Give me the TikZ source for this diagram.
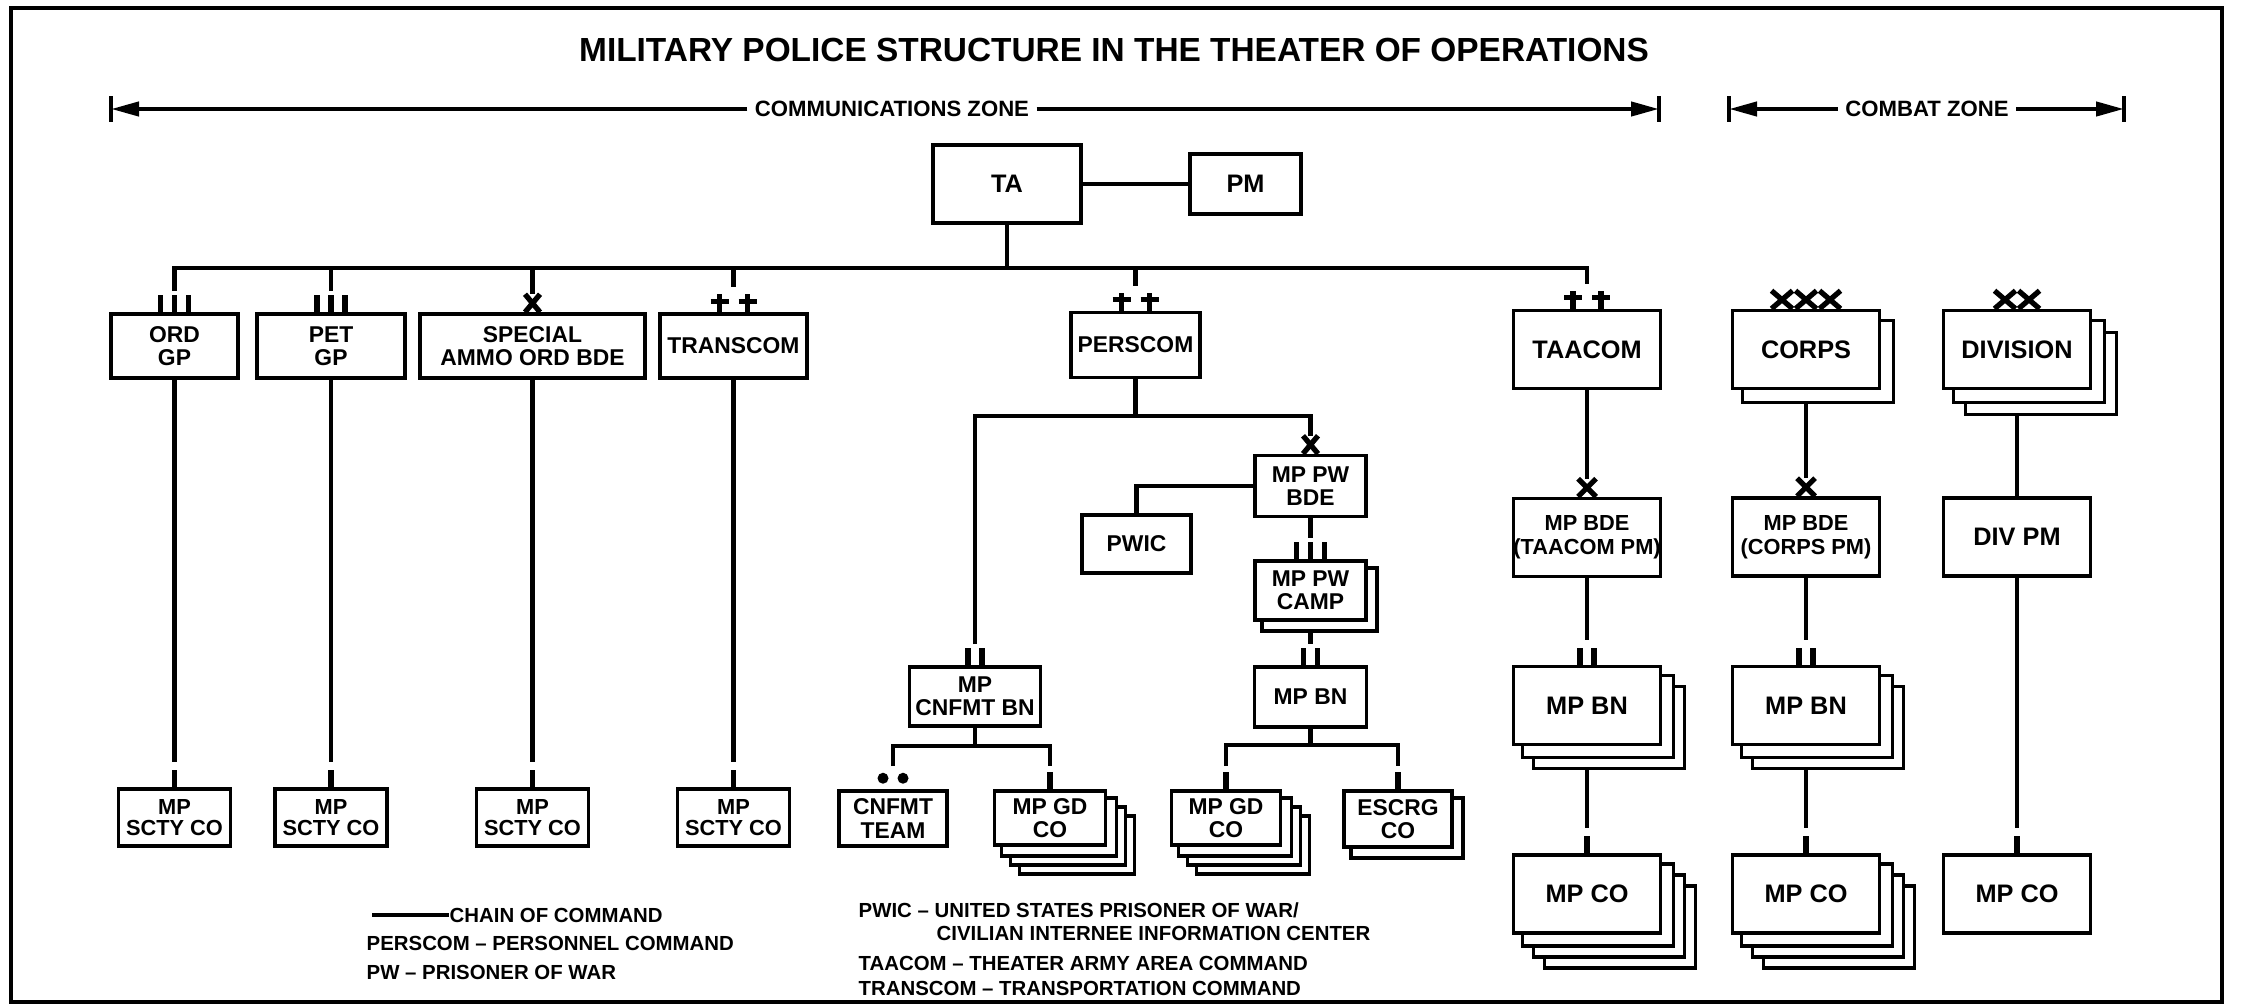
\documentclass[tikz,border=0pt]{standalone}
\usepackage{fontspec}
\setmainfont{Liberation Sans}
\usetikzlibrary{calc}
\usetikzlibrary{arrows.meta}
\pgfdeclarelayer{links}
\pgfdeclarelayer{backs}
\pgfsetlayers{links,backs,main}
\newcommand{\boxfont}{\bfseries\fontsize{6.5}{6.6}\selectfont}
\newcommand{\bigfont}{\bfseries\fontsize{7.2}{7}\selectfont}
\newcommand{\bdefont}{\bfseries\fontsize{6.2}{6.9}\selectfont}
\newcommand{\smallfont}{\bfseries\fontsize{6.2}{5.8}\selectfont}
\newcommand{\legfont}{\bfseries\fontsize{5.8}{7}\selectfont}
\newcommand{\stack}[3]{\begin{pgfonlayer}{backs}\foreach \k in {#2,...,1} {\draw[line width=1pt, fill=white] ($(#1.south west)+(\k*#3,\k*#3)$) rectangle ($(#1.north east)+(\k*#3,\k*#3)$);}\end{pgfonlayer}}
\newcommand{\bars}[2]{\foreach \dx in {#2} {\draw[sym] ($(#1.north)+(\dx,0)$) -- ++(0,-17);}}
\newcommand{\brig}[3]{\foreach \dx in {#2} {\draw[sym] ($(#1.north)+(\dx-#3/2,0)$) -- ++(#3,-18) ($(#1.north)+(\dx+#3/2,0)$) -- ++(-#3,-18);}}
\newcommand{\cmd}[1]{\foreach \dx in {-14,14} {\draw[sym] ($(#1.north)+(\dx,0)$) -- ++(0,-18) ($(#1.north)+(\dx-9,-11)$) -- ++(18,0);}}
\newcommand{\team}[1]{\foreach \dx in {-10,10} {\fill ($(#1.north)+(\dx,-11)$) circle[radius=0.55mm];}}
\tikzset{
  orgbox/.style 2 args={draw, line width=1pt, fill=white, align=center, inner sep=0pt, minimum width=#1cm, minimum height=#2cm, font=\boxfont},
  bigbox/.style={orgbox={1.47}{0.78}, font=\bigfont},
  link/.style={line width=1.3pt},
  sym/.style={line width=1.5pt},
  zone/.style={line width=1.2pt},
  zonetext/.style={inner sep=0.7mm, font=\bfseries\fontsize{6.3}{7}\selectfont},
  legend/.style={anchor=west, inner sep=0pt, font=\legfont},
}
\begin{document}
\begin{tikzpicture}[x=0.01cm, y=-0.01cm]
\useasboundingbox (0,0) rectangle (2243,1006);
\draw[line width=1pt] (11,8) rectangle (2222,1002);
\node[font=\bfseries\fontsize{9.5}{10}\selectfont] (title) at (1114,50) {MILITARY POLICE STRUCTURE IN THE THEATER OF OPERATIONS};

% zones
\coordinate (comL) at (111,109);
\coordinate (comR) at (1659,109);
\coordinate (cbtL) at (1729,109);
\coordinate (cbtR) at (2124,109);
\node[zonetext] (comtext) at (892,109) {COMMUNICATIONS ZONE};
\node[zonetext] (cbttext) at (1927,109) {COMBAT ZONE};
\draw[zone, -{Triangle[length=2.8mm, width=1.4mm]}] (comtext.west) -- (comL);
\draw[zone, -{Triangle[length=2.8mm, width=1.4mm]}] (comtext.east) -- (comR);
\draw[zone, -{Triangle[length=2.8mm, width=1.4mm]}] (cbttext.west) -- (cbtL);
\draw[zone, -{Triangle[length=2.8mm, width=1.4mm]}] (cbttext.east) -- (cbtR);
\foreach \c in {comL, comR, cbtL, cbtR} {\draw[zone] (\c) ++(0,-13) -- ++(0,26);}

% top
\node[bigbox, minimum width=1.48cm] (ta) at (1007,184) {TA};
\node[orgbox={1.11}{0.60}, font=\bigfont] (pm) at (1245.5,184) {PM};

% row 1
\node[orgbox={1.27}{0.64}] (ordgp) at (174.5,346) {ORD\\GP};
\node[orgbox={1.48}{0.64}] (petgp) at (331,346) {PET\\GP};
\node[orgbox={2.25}{0.64}] (ammo) at (532.5,346) {SPECIAL\\AMMO ORD BDE};
\node[orgbox={1.47}{0.64}] (transcom) at (733.5,346) {TRANSCOM};
\node[orgbox={1.29}{0.65}] (perscom) at (1135.5,345) {PERSCOM};
\node[bigbox] (taacom) at (1587,349.5) {TAACOM};
\node[bigbox] (corps) at (1806,349.5) {CORPS};
\stack{corps}{1}{12}
\node[bigbox] (division) at (2017,349.5) {DIVISION};
\stack{division}{2}{12}

% security companies
\node[orgbox={1.12}{0.57}, font=\smallfont] (sctyA) at (174.5,817.5) {MP\\SCTY CO};
\node[orgbox={1.12}{0.57}, font=\smallfont] (sctyB) at (331,817.5) {MP\\SCTY CO};
\node[orgbox={1.12}{0.57}, font=\smallfont] (sctyC) at (532.5,817.5) {MP\\SCTY CO};
\node[orgbox={1.12}{0.57}, font=\smallfont] (sctyD) at (733.5,817.5) {MP\\SCTY CO};

% perscom
\node[orgbox={1.11}{0.61}] (pwbde) at (1310.5,486) {MP PW\\BDE};
\node[orgbox={1.09}{0.58}] (pwic) at (1136.5,544) {PWIC};
\node[orgbox={1.11}{0.59}] (pwcamp) at (1310.5,590.5) {MP PW\\CAMP};
\stack{pwcamp}{1}{9}
\node[orgbox={1.12}{0.60}] (mpbn) at (1310.5,697) {MP BN};
\node[orgbox={1.31}{0.59}] (cnfmtbn) at (975,696.5) {MP\\CNFMT BN};
\node[orgbox={1.08}{0.55}] (cnfmtteam) at (893,818.5) {CNFMT\\TEAM};
\node[orgbox={1.11}{0.54}] (gdcoA) at (1050,818) {MP GD\\CO};
\stack{gdcoA}{3}{9}
\node[orgbox={1.09}{0.54}] (gdcoB) at (1226,818) {MP GD\\CO};
\stack{gdcoB}{3}{9}
\node[orgbox={1.08}{0.56}] (escrg) at (1398,819) {ESCRG\\CO};
\stack{escrg}{1}{9}

% taacom, corps, division
\node[bigbox, font=\bdefont] (bdeT) at (1587,537.5) {MP BDE\\(TAACOM PM)};
\node[bigbox] (bnT) at (1587,705.5) {MP BN};
\stack{bnT}{2}{11}
\node[bigbox] (coT) at (1587,894) {MP CO};
\stack{coT}{3}{11}
\node[bigbox, font=\bdefont] (bdeC) at (1806,537) {MP BDE\\(CORPS PM)};
\node[bigbox] (bnC) at (1806,705.5) {MP BN};
\stack{bnC}{2}{11}
\node[bigbox] (coC) at (1806,894) {MP CO};
\stack{coC}{3}{11}
\node[bigbox] (divpm) at (2017,537) {DIV PM};
\node[bigbox] (coD) at (2017,894) {MP CO};

% unit symbols
\bars{ordgp}{-14,0,14}
\bars{petgp}{-14,0,14}
\brig{ammo}{0}{15}
\cmd{transcom}
\cmd{perscom}
\cmd{taacom}
\brig{corps}{-24,0,24}{21}
\brig{division}{-12,12}{21}
\foreach \n in {sctyA, sctyB, sctyC, sctyD, gdcoA, gdcoB, escrg, coT, coC, coD} {\bars{\n}{0}}
\brig{pwbde}{0}{15}
\bars{pwcamp}{-14,0,14}
\foreach \n in {mpbn, cnfmtbn, bnT, bnC} {\bars{\n}{-7,7}}
\team{cnfmtteam}
\brig{bdeT}{0}{18}
\brig{bdeC}{0}{18}

% chain of command
\begin{pgfonlayer}{links}
\coordinate (bus) at (0,268);
\coordinate (pbus) at (0,416);
\coordinate (cbus) at (0,746);
\coordinate (mbus) at (0,745);
\draw[link] (ta) -- (pm);
\draw[link] (ta.south) -- (ta |- bus);
\draw[link] ($(ordgp.north)+(0,-21)$) |- (taacom |- bus) -- ($(taacom.north)+(0,-25)$);
\foreach \n/\g in {petgp/21, ammo/18, transcom/25, perscom/25} {\draw[link] (\n |- bus) -- ($(\n.north)+(0,-\g)$);}
\foreach \a/\b in {ordgp/sctyA, petgp/sctyB, ammo/sctyC, transcom/sctyD} {\draw[link] (\a.south) -- ($(\b.north)+(0,-25)$);}
\draw[link] (perscom.south) -- (perscom |- pbus);
\draw[link] ($(cnfmtbn.north)+(0,-21)$) |- (pwbde |- pbus) -- ($(pwbde.north)+(0,-18)$);
\draw[link] (pwbde.west) -| (pwic.north);
\draw[link] (pwbde.south) -- ($(pwcamp.north)+(0,-21)$);
\draw[link] (pwcamp.south) -- ($(mpbn.north)+(0,-21)$);
\draw[link] (cnfmtbn.south) -- (cnfmtbn |- cbus);
\draw[link] ($(cnfmtteam.north)+(0,-23)$) |- (gdcoA |- cbus) -- ($(gdcoA.north)+(0,-23)$);
\draw[link] (mpbn.south) -- (mpbn |- mbus);
\draw[link] ($(gdcoB.north)+(0,-23)$) |- (escrg |- mbus) -- ($(escrg.north)+(0,-23)$);
\draw[link] (taacom.south) -- ($(bdeT.north)+(0,-18)$);
\draw[link] (bdeT.south) -- ($(bnT.north)+(0,-25)$);
\draw[link] (bnT.south) -- ($(coT.north)+(0,-25)$);
\draw[link] (corps.south) -- ($(bdeC.north)+(0,-18)$);
\draw[link] (bdeC.south) -- ($(bnC.north)+(0,-25)$);
\draw[link] (bnC.south) -- ($(coC.north)+(0,-25)$);
\draw[link] (division.south) -- (divpm.north);
\draw[link] (divpm.south) -- ($(coD.north)+(0,-25)$);
\end{pgfonlayer}

% legend
\coordinate (keyL) at (372,915);
\node[legend] (key) at (449,915) {CHAIN OF COMMAND};
\draw[link] (keyL) -- (key.west);
\node[legend] (lgperscom) at (366,943) {PERSCOM – PERSONNEL COMMAND};
\node[legend] (lgpw) at (366,972) {PW – PRISONER OF WAR};
\node[legend] (lgpwic) at (858,910) {PWIC – UNITED STATES PRISONER OF WAR/};
\node[legend] (lgpwic2) at (936,933) {CIVILIAN INTERNEE INFORMATION CENTER};
\node[legend] (lgtaacom) at (858,963) {TAACOM – THEATER ARMY AREA COMMAND};
\node[legend] (lgtranscom) at (858,988) {TRANSCOM – TRANSPORTATION COMMAND};
\end{tikzpicture}
\end{document}
